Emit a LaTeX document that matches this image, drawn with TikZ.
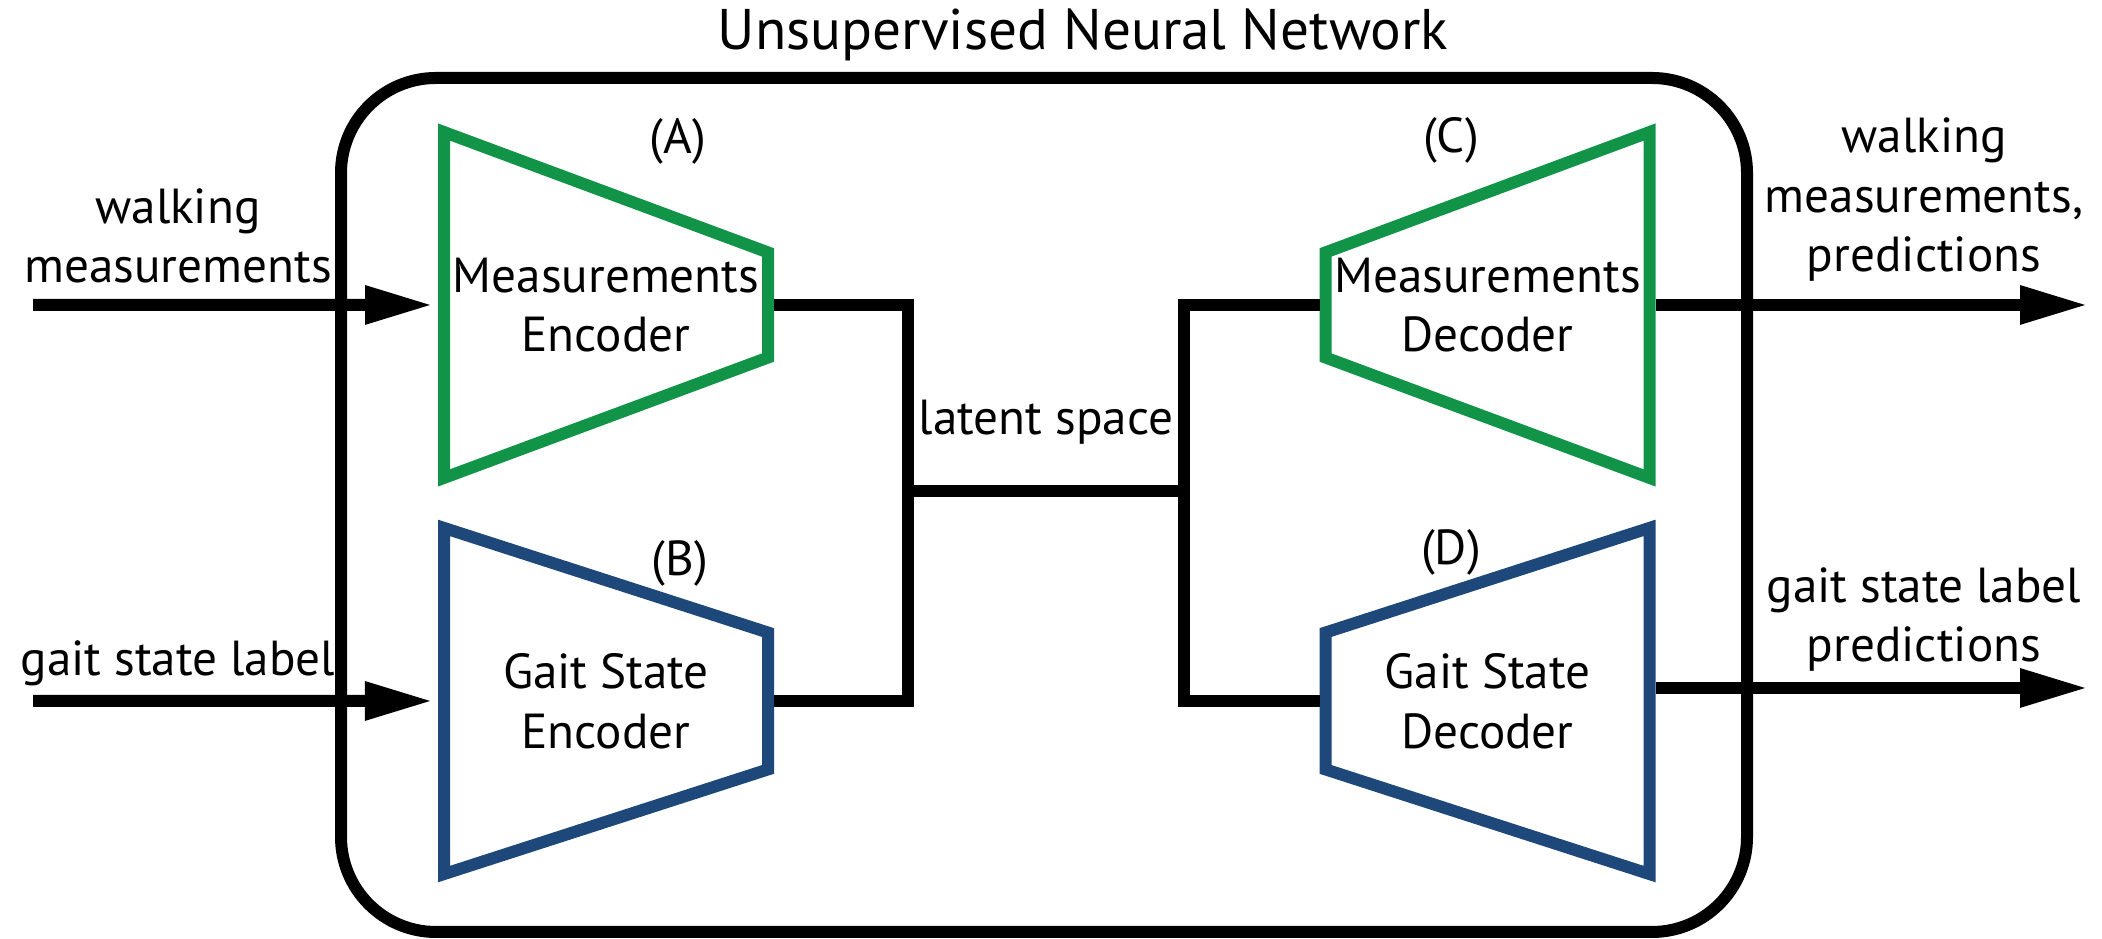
\documentclass[tikz,border=0pt]{standalone}
\usepackage{fontspec}
\setmainfont{PT Sans}
\usetikzlibrary{positioning}
\usetikzlibrary{shapes.geometric}
\usetikzlibrary{arrows.meta}
\usetikzlibrary{calc}

\definecolor{codergreen}{RGB}{17,148,71}
\definecolor{coderblue}{RGB}{31,72,122}

\tikzset{
	coder/.style = {draw, trapezium, trapezium stretches = true,
			trapezium left angle = 70.5, trapezium right angle = 70.5,
			minimum width = 3.48cm, minimum height = 3.24cm,
			inner sep = 0pt, line width = 0.12cm, align = center},
	flow/.style = {line width = 0.12cm, -{Triangle[length=0.68cm,width=0.36cm]}},
	link/.style = {line width = 0.12cm},
}

\begin{document}
\begin{tikzpicture}[font=\fontsize{14}{17}\selectfont]
		\useasboundingbox (0,0) rectangle (21.02,9.39);

		\node[draw,rectangle,rounded corners = 0.95cm,line width = 0.12cm,minimum width = 14.06cm,minimum height = 8.54cm] at (10.44,4.34) (net) {};
		\node[anchor = base, font = \fontsize{16.3}{19}\selectfont] at (10.83,8.89) (title) {Unsupervised Neural Network};

		% encoders and decoders
		\node[coder, draw = codergreen, shape border rotate = 270] at (6.06,6.34) (menc) {Measurements\\Encoder};
		\node[coder, draw = coderblue, shape border rotate = 270] at (6.06,2.38) (genc) {Gait State\\Encoder};
		\node[coder, draw = codergreen, shape border rotate = 90] at (14.875,6.34) (mdec) {Measurements\\Decoder};
		\node[coder, draw = coderblue, shape border rotate = 90] at (14.875,2.38) (gdec) {Gait State\\Decoder};

		\node at (6.78,7.98) (la) {(A)};
		\node at (6.80,3.76) (lb) {(B)};
		\node at (14.51,7.99) (lc) {(C)};
		\node at (14.51,3.87) (ld) {(D)};

		% inputs and outputs
		\node[anchor = base, align = center] at (1.78,6.56) (win) {walking\\measurements};
		\node[anchor = base] at (1.78,2.63) (gin) {gait state label};
		\node[anchor = base, align = center] at (19.24,6.67) (wout) {walking\\measurements,\\predictions};
		\node[anchor = base, align = center] at (19.24,2.77) (gout) {gait state label\\predictions};

		\coordinate (wstart) at (0.33,6.34);
		\coordinate (gstart) at (0.33,2.38);
		\coordinate (wend) at (20.88,6.34);
		\coordinate (gend) at (20.88,2.51);

		% latent space
		\coordinate (jl) at (9.08,4.48);
		\coordinate (jr) at (11.84,4.48);
		\node[anchor = base] at (10.46,5.04) (latent) {latent space};

		\draw[flow, shorten > = 0.05cm] (wstart) -- (menc.west);
		\draw[flow, shorten > = 0.05cm] (gstart) -- (genc.west);
		\draw[flow] (mdec.east) -- (mdec.east -| wend);
		\draw[flow] ([yshift = 0.13cm]gdec.east) -- ([yshift = 0.13cm]gdec.east -| gend);

		\draw[link] (menc.east) -| (jl) |- (genc.east);
		\draw[link] (jl) -- (jr);
		\draw[link] (mdec.west) -| (jr) |- (gdec.west);
	\end{tikzpicture}
\end{document}
